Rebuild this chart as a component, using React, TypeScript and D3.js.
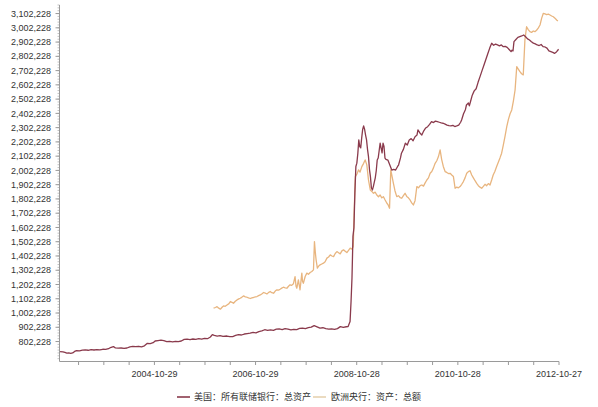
import React from "react";
import * as d3 from "d3";

const fedDates = [
"2002-12-18","2003-01-08","2003-01-22","2003-02-05","2003-02-19","2003-03-05","2003-03-19","2003-04-02","2003-04-16","2003-05-07","2003-05-28","2003-06-18","2003-07-09","2003-07-30","2003-08-20","2003-09-10","2003-10-01","2003-10-22","2003-11-12","2003-12-03","2003-12-17",
"2004-01-07","2004-01-21","2004-02-11","2004-03-03","2004-03-24","2004-04-14","2004-05-05","2004-05-26","2004-06-16","2004-07-07","2004-07-28","2004-08-18","2004-09-08","2004-09-29","2004-10-20","2004-11-03","2004-11-24","2004-12-15",
"2005-01-05","2005-01-26","2005-02-16","2005-03-09","2005-03-30","2005-04-20","2005-05-11","2005-06-01","2005-06-22","2005-07-13","2005-08-03","2005-08-24","2005-09-14","2005-10-05","2005-10-26","2005-11-16","2005-12-07","2005-12-21",
"2006-01-04","2006-01-25","2006-02-15","2006-03-08","2006-04-05","2006-04-26","2006-05-17","2006-06-07","2006-06-28","2006-07-19","2006-08-09","2006-08-30","2006-09-20","2006-10-11","2006-11-01","2006-11-22","2006-12-13",
"2007-01-03","2007-01-24","2007-02-14","2007-03-07","2007-03-28","2007-04-18","2007-05-09","2007-05-30","2007-06-20","2007-07-11","2007-08-01","2007-08-22","2007-09-12","2007-10-03","2007-10-24","2007-11-14","2007-12-05","2007-12-26",
"2008-01-16","2008-02-06","2008-02-27","2008-03-19","2008-04-09","2008-04-30","2008-05-21","2008-06-11","2008-07-02","2008-07-23","2008-08-13","2008-08-27","2008-09-10","2008-09-17","2008-09-24","2008-10-01","2008-10-08","2008-10-15","2008-10-22","2008-10-29","2008-11-05","2008-11-12","2008-11-19","2008-11-26","2008-12-03","2008-12-10","2008-12-17","2008-12-24","2008-12-31",
"2009-01-07","2009-01-14","2009-01-21","2009-01-28","2009-02-04","2009-02-11","2009-02-18","2009-02-25","2009-03-04","2009-03-11","2009-03-18","2009-03-25","2009-04-01","2009-04-08","2009-04-15","2009-04-22","2009-04-29","2009-05-06","2009-05-13","2009-05-20","2009-05-27","2009-06-10","2009-06-24","2009-07-08","2009-07-22","2009-08-05","2009-08-19","2009-08-26","2009-09-09","2009-09-16","2009-09-30","2009-10-14","2009-10-28","2009-11-11","2009-11-25","2009-12-09","2009-12-23",
"2010-01-06","2010-01-13","2010-01-27","2010-02-10","2010-02-24","2010-03-10","2010-03-24","2010-04-07","2010-04-21","2010-05-05","2010-05-19","2010-06-02","2010-06-16","2010-06-30","2010-07-14","2010-07-28","2010-08-11","2010-08-25","2010-09-08","2010-09-22","2010-10-06","2010-10-20","2010-11-03","2010-11-17","2010-11-24","2010-12-08","2010-12-22","2010-12-29",
"2011-01-12","2011-01-19","2011-01-26","2011-02-09","2011-02-23","2011-03-09","2011-03-23","2011-04-06","2011-04-20","2011-05-04","2011-05-18","2011-06-01","2011-06-15","2011-06-29","2011-07-13","2011-07-27","2011-08-10","2011-08-24","2011-09-07","2011-09-21","2011-10-05","2011-10-19","2011-11-02","2011-11-16","2011-11-23","2011-11-30","2011-12-07","2011-12-21",
"2012-01-04","2012-01-18","2012-02-01","2012-02-15","2012-02-29","2012-03-14","2012-03-28","2012-04-11","2012-04-25","2012-05-09","2012-05-23","2012-06-06","2012-06-20","2012-07-04","2012-07-18","2012-08-01","2012-08-15","2012-08-29","2012-09-12","2012-09-26","2012-10-10","2012-10-24"
];
const fedValues = [
732000,730000,726000,721000,723000,719000,722000,733000,739000,737000,742000,744000,741000,745000,743000,746000,744000,748000,747000,752000,760000,
767000,758000,756000,757000,754000,757000,765000,768000,766000,769000,765000,772000,790000,788000,794000,806000,809000,812000,
808000,801000,803000,800000,804000,802000,806000,817000,819000,816000,820000,818000,822000,819000,824000,822000,834000,851000,
845000,840000,843000,838000,841000,836000,837000,845000,850000,848000,855000,858000,861000,866000,863000,872000,877000,
885000,880000,884000,881000,889000,891000,886000,893000,889000,884000,888000,886000,894000,896000,893000,900000,903000,914000,
905000,896000,899000,893000,889000,891000,888000,893000,907000,902000,906000,907000,942000,1080000,1250000,1540000,1600000,1850000,2030000,2053000,2120000,2216000,2169000,2160000,2230000,2290000,2314000,2290000,2250000,
2216000,2150000,2099000,2010000,1959000,1880000,1865000,1889000,1920000,1950000,2000000,2075000,2089000,2140000,2193000,2160000,2125000,2193000,2170000,2089000,2080000,2075000,2040000,2005000,2010000,2005000,2030000,2040000,2090000,2123000,2150000,2193000,2180000,2216000,2225000,2210000,2239000,
2250000,2286000,2265000,2251000,2280000,2300000,2309000,2325000,2344000,2338000,2348000,2344000,2340000,2336000,2333000,2327000,2320000,2316000,2314000,2318000,2310000,2314000,2320000,2340000,2356000,2400000,2430000,2461000,
2475000,2455000,2480000,2530000,2560000,2575000,2620000,2660000,2700000,2740000,2780000,2820000,2860000,2894000,2880000,2888000,2882000,2876000,2882000,2870000,2872000,2865000,2850000,2835000,2845000,2840000,2905000,2920000,
2935000,2940000,2945000,2952000,2940000,2925000,2917000,2905000,2895000,2890000,2882000,2878000,2885000,2870000,2868000,2860000,2840000,2835000,2830000,2823000,2835000,2852000
];

const ecbDates = [
"2005-12-30","2006-01-13","2006-01-24","2006-02-03","2006-02-17","2006-03-03","2006-03-12","2006-03-24","2006-04-06","2006-04-20","2006-04-30","2006-05-12","2006-05-23","2006-06-05","2006-06-17","2006-06-30","2006-07-10","2006-07-21","2006-08-03","2006-08-16","2006-08-28","2006-09-08","2006-09-21","2006-10-02","2006-10-14","2006-10-27","2006-11-08","2006-11-20","2006-12-02","2006-12-15","2006-12-26",
"2007-01-08","2007-01-19","2007-02-01","2007-02-12","2007-02-23","2007-03-08","2007-03-20","2007-04-01","2007-04-13","2007-04-24","2007-05-06","2007-05-18","2007-05-31","2007-06-12","2007-06-24","2007-07-05","2007-07-17","2007-07-29","2007-08-10","2007-08-17","2007-08-23","2007-09-03","2007-09-09","2007-09-15","2007-09-28","2007-10-03","2007-10-09","2007-10-22","2007-11-03","2007-11-15","2007-11-27","2007-12-09","2007-12-21","2007-12-28",
"2008-01-04","2008-01-09","2008-01-18","2008-01-28","2008-02-07","2008-02-19","2008-03-02","2008-03-14","2008-03-27","2008-04-08","2008-04-20","2008-05-02","2008-05-14","2008-05-26","2008-06-07","2008-06-19","2008-07-01","2008-07-13","2008-07-25","2008-08-06","2008-08-18","2008-08-30","2008-09-11","2008-09-23","2008-10-03","2008-10-10","2008-10-18","2008-10-31","2008-11-10","2008-11-21","2008-12-04","2008-12-16","2008-12-28",
"2009-01-09","2009-01-21","2009-02-03","2009-02-14","2009-02-26","2009-03-10","2009-03-22","2009-04-03","2009-04-15","2009-04-27","2009-05-09","2009-05-21","2009-06-03","2009-06-12","2009-06-22","2009-07-01","2009-07-10","2009-07-20","2009-07-31","2009-08-13","2009-08-25","2009-09-06","2009-09-18","2009-09-30","2009-10-12","2009-10-24","2009-11-05","2009-11-17","2009-11-29","2009-12-11","2009-12-23",
"2010-01-05","2010-01-17","2010-01-29","2010-02-10","2010-02-22","2010-03-06","2010-03-18","2010-03-30","2010-04-11","2010-04-23","2010-05-05","2010-05-17","2010-05-29","2010-06-10","2010-06-22","2010-07-03","2010-07-15","2010-07-28","2010-08-09","2010-08-21","2010-09-02","2010-09-14","2010-09-26","2010-10-08","2010-10-20","2010-11-01","2010-11-13","2010-11-25","2010-12-07","2010-12-19","2010-12-31",
"2011-01-12","2011-01-24","2011-02-05","2011-02-17","2011-03-01","2011-03-13","2011-03-25","2011-04-06","2011-04-18","2011-04-30","2011-05-12","2011-05-24","2011-06-05","2011-06-17","2011-06-29","2011-07-10","2011-07-22","2011-08-04","2011-08-16","2011-08-28","2011-09-09","2011-09-21","2011-10-03","2011-10-16","2011-10-28","2011-11-09","2011-11-21","2011-12-03","2011-12-15","2011-12-27",
"2012-01-06","2012-01-19","2012-01-31","2012-02-12","2012-02-24","2012-03-07","2012-03-19","2012-03-31","2012-04-12","2012-04-24","2012-05-06","2012-05-18","2012-05-30","2012-06-12","2012-06-24","2012-07-06","2012-07-18","2012-07-30","2012-08-11","2012-08-23","2012-09-04","2012-09-16","2012-09-28","2012-10-10","2012-10-19"
];
const ecbValues = [
1036000,1041000,1047000,1038000,1029000,1044000,1052000,1049000,1059000,1068000,1083000,1077000,1071000,1085000,1094000,1101000,1106000,1112000,1122000,1116000,1113000,1108000,1104000,1109000,1111000,1115000,1118000,1124000,1129000,1138000,1146000,
1141000,1136000,1147000,1153000,1145000,1141000,1156000,1165000,1163000,1169000,1177000,1183000,1179000,1176000,1190000,1200000,1196000,1207000,1258000,1190000,1176000,1235000,1200000,1165000,1282000,1225000,1211000,1258000,1282000,1274000,1286000,1293000,1305000,1503000,
1420000,1375000,1317000,1332000,1340000,1346000,1352000,1362000,1387000,1395000,1410000,1402000,1398000,1420000,1433000,1425000,1417000,1438000,1445000,1436000,1426000,1442000,1457000,1450000,1468000,1720000,1959000,1980000,2006000,1990000,2029000,2050000,2076000,
2041000,1935000,1865000,1855000,1842000,1850000,1830000,1818000,1830000,1810000,1818000,1795000,1772000,1760000,1737000,2006000,1960000,1912000,1860000,1818000,1825000,1812000,1807000,1825000,1842000,1820000,1810000,1795000,1775000,1760000,1790000,
1889000,1880000,1895000,1900000,1892000,1915000,1935000,1950000,1982000,1995000,2020000,2052000,2070000,2099000,2146000,2080000,2030000,1994000,1988000,1980000,1982000,1970000,1959000,1877000,1885000,1880000,1889000,1905000,1924000,1950000,1982000,
1994000,2000000,1970000,1950000,1930000,1912000,1895000,1885000,1877000,1890000,1905000,1895000,1910000,1900000,1935000,1970000,1995000,2029000,2060000,2090000,2123000,2180000,2240000,2309000,2360000,2400000,2426000,2490000,2566000,2730000,
2715000,2695000,2680000,2672000,2917000,3010000,2990000,2975000,2970000,2980000,2975000,2985000,3000000,3022000,3070000,3104000,3100000,3095000,3098000,3092000,3085000,3080000,3070000,3057000,3050000
];

const yTickValues = [802228,902228,1002228,1102228,1202228,1302228,1402228,1502228,1602228,1702228,1802228,1902228,2002228,2102228,2202228,2302228,2402228,2502228,2602228,2702228,2802228,2902228,3002228,3102228];
const xTickLabels = ["2004-10-29","2006-10-29","2008-10-28","2010-10-28","2012-10-27"];
const seriesNames = ["美国：所有联储银行：总资产", "欧洲央行：资产：总额"];
const seriesColors = ["#8a3a4c", "#e8b57f"];

const parse = d3.utcParse("%Y-%m-%d");

export default function App() {
  const W = 598, H = 407;
  const left = 59.5, right = 559, top = 5, bottom = 361.5;
  const x = d3.scaleUtc().domain([parse("2002-12-14") as Date, parse("2012-10-27") as Date]).range([left, right]);
  const y = d3.scaleLinear().domain([662228, 3162228]).range([bottom, top]);

  const fed = fedDates.map((d, i) => ({ date: parse(d) as Date, value: fedValues[i] }));
  const ecb = ecbDates.map((d, i) => ({ date: parse(d) as Date, value: ecbValues[i] }));
  const line = d3.line<{ date: Date; value: number }>().x(d => x(d.date)).y(d => y(d.value));

  const majorDates = xTickLabels.map(s => parse(s) as Date);
  const minorDates: Date[] = [];
  const DAY = 86400000;
  for (let i = 0; i < majorDates.length - 1; i++) {
    const a = majorDates[i].getTime(), b = majorDates[i + 1].getTime();
    for (let k = 1; k < 4; k++) minorDates.push(new Date(a + (b - a) * k / 4));
  }
  for (let t = majorDates[0].getTime() - 182.5 * DAY; t >= x.domain()[0].getTime(); t -= 182.5 * DAY) minorDates.push(new Date(t));

  const yMinor: number[] = [];
  for (let v = 682228; v <= 3162228; v += 20000) yMinor.push(v);

  const fmt = d3.format(",");
  const axisColor = "#9a9a9a";
  const font = "'Liberation Sans', Arial, sans-serif";

  return (
    <svg width={W} height={H} style={{ position: "absolute", left: 0, top: 0, background: "#fff" }}>
      {/* y axis */}
      <line x1={left} x2={left} y1={top} y2={bottom} stroke={axisColor} strokeWidth={1} />
      {yMinor.map((v, i) => (
        <line key={"ym" + i} x1={left - 2} x2={left} y1={y(v)} y2={y(v)} stroke={axisColor} strokeWidth={0.6} />
      ))}
      {yTickValues.map((v, i) => (
        <g key={"yt" + i}>
          <line x1={left - 4} x2={left} y1={y(v)} y2={y(v)} stroke={axisColor} strokeWidth={1} />
          <text x={51} y={y(v)} dy="0.35em" textAnchor="end" fontSize={9} fontFamily={font} fill="#333">{fmt(v)}</text>
        </g>
      ))}
      {/* x axis */}
      <line x1={left} x2={right} y1={bottom} y2={bottom} stroke={axisColor} strokeWidth={1} />
      {minorDates.map((d, i) => (
        <line key={"xm" + i} x1={x(d)} x2={x(d)} y1={bottom} y2={bottom + 3.5} stroke={axisColor} strokeWidth={1} />
      ))}
      {majorDates.map((d, i) => (
        <g key={"xt" + i}>
          <line x1={x(d)} x2={x(d)} y1={bottom} y2={bottom + 3.5} stroke={axisColor} strokeWidth={1} />
          <text x={x(d)} y={376.5} textAnchor="middle" fontSize={9} fontFamily={font} fill="#333">{xTickLabels[i]}</text>
        </g>
      ))}
      {/* lines */}
      <path d={line(ecb) || ""} fill="none" stroke={seriesColors[1]} strokeWidth={1.3} strokeLinejoin="round" />
      <path d={line(fed) || ""} fill="none" stroke={seriesColors[0]} strokeWidth={1.3} strokeLinejoin="round" />
      {/* legend */}
      <line x1={177} x2={190} y1={397} y2={397} stroke={seriesColors[0]} strokeWidth={1.6} />
      <text x={194} y={397} dy="0.35em" fontSize={9} fontFamily="'Noto Sans CJK SC', sans-serif" fill="#333">{seriesNames[0]}</text>
      <line x1={313} x2={326} y1={397} y2={397} stroke="#e6d2b0" strokeWidth={1.6} />
      <text x={331} y={397} dy="0.35em" fontSize={9} fontFamily="'Noto Sans CJK SC', sans-serif" fill="#333">{seriesNames[1]}</text>
    </svg>
  );
}
